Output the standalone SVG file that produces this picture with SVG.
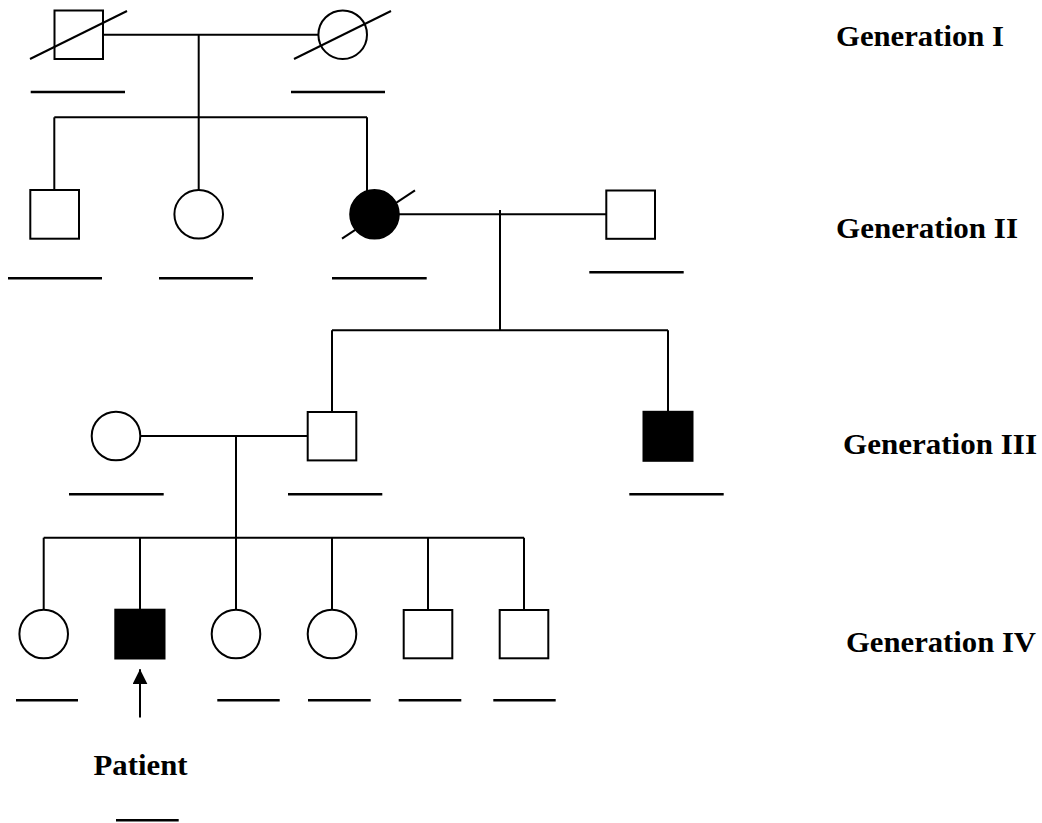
<svg xmlns="http://www.w3.org/2000/svg" width="1042" height="823" viewBox="0 0 1042 823">
<style>
  .ln { stroke: #000; stroke-width: 2; fill: none; }
  .ul { stroke: #000; stroke-width: 2.6; fill: none; }
  .open { stroke: #000; stroke-width: 2; fill: #fff; }
  .aff { stroke: #000; stroke-width: 2; fill: #000; }
  .lbl { font-family: "Liberation Serif", "Times New Roman", serif; font-weight: bold; font-size: 29px; fill: #000; }
</style>
<defs>
  <marker id="arr" viewBox="0 0 10 10" refX="10" refY="5" markerWidth="15" markerHeight="15" markerUnits="userSpaceOnUse" orient="auto">
    <path d="M0,0 L10,5 L0,10 Z" fill="#000"/>
  </marker>
</defs>
<rect width="1042" height="823" fill="#fff"/>

<g id="connectors">
  <!-- Generation I couple -->
  <line class="ln" x1="103" y1="34.7" x2="318.4" y2="34.7"/>
  <line class="ln" x1="198.7" y1="34.7" x2="198.7" y2="190"/>
  <line class="ln" x1="54.3" y1="117.3" x2="367" y2="117.3"/>
  <line class="ln" x1="54.3" y1="117.3" x2="54.3" y2="190"/>
  <line class="ln" x1="367" y1="117.3" x2="367" y2="191"/>
  <!-- Generation II couple -->
  <line class="ln" x1="399" y1="214.3" x2="606.3" y2="214.3"/>
  <line class="ln" x1="500" y1="210" x2="500" y2="330.3"/>
  <line class="ln" x1="332" y1="330.3" x2="668" y2="330.3"/>
  <line class="ln" x1="332" y1="330.3" x2="332" y2="412"/>
  <line class="ln" x1="668" y1="330.3" x2="668" y2="411.7"/>
  <!-- Generation III couple -->
  <line class="ln" x1="140.3" y1="436" x2="307.7" y2="436"/>
  <line class="ln" x1="236" y1="436" x2="236" y2="537.7"/>
  <line class="ln" x1="43.7" y1="537.7" x2="524" y2="537.7"/>
  <line class="ln" x1="43.7" y1="537.7" x2="43.7" y2="610"/>
  <line class="ln" x1="140" y1="537.7" x2="140" y2="610"/>
  <line class="ln" x1="236" y1="537.7" x2="236" y2="610"/>
  <line class="ln" x1="332" y1="537.7" x2="332" y2="610"/>
  <line class="ln" x1="428" y1="537.7" x2="428" y2="610"/>
  <line class="ln" x1="524" y1="537.7" x2="524" y2="610"/>
  <!-- proband arrow -->
  <line class="ln" x1="140" y1="717.5" x2="140" y2="669.3" marker-end="url(#arr)"/>
</g>

<!-- Generation I -->
<g id="I-1">
  <rect class="open" x="54.5" y="10.5" width="48.5" height="48.5"/>
  <line class="ln" x1="30" y1="59" x2="127" y2="11"/>
  <line class="ul" x1="30.7" y1="92" x2="125" y2="92"/>
</g>
<g id="I-2">
  <circle class="open" cx="342.7" cy="34.7" r="24.3"/>
  <line class="ln" x1="294" y1="59" x2="391" y2="11"/>
  <line class="ul" x1="291" y1="92" x2="385" y2="92"/>
</g>

<!-- Generation II -->
<g id="II-1">
  <rect class="open" x="30.3" y="190" width="48.7" height="48.7"/>
  <line class="ul" x1="8" y1="278.3" x2="102" y2="278.3"/>
</g>
<g id="II-2">
  <circle class="open" cx="198.7" cy="214.3" r="24.3"/>
  <line class="ul" x1="159" y1="278.3" x2="253" y2="278.3"/>
</g>
<g id="II-3">
  <circle class="aff" cx="374.5" cy="214.3" r="24.3"/>
  <line class="ln" x1="342" y1="238.7" x2="415" y2="190.3"/>
  <line class="ul" x1="332" y1="278.3" x2="426.7" y2="278.3"/>
</g>
<g id="II-4">
  <rect class="open" x="606.3" y="190.5" width="48.7" height="48.3"/>
  <line class="ul" x1="589.3" y1="272.3" x2="683.7" y2="272.3"/>
</g>

<!-- Generation III -->
<g id="III-1">
  <circle class="open" cx="116" cy="436" r="24.3"/>
  <line class="ul" x1="69" y1="494.3" x2="163.7" y2="494.3"/>
</g>
<g id="III-2">
  <rect class="open" x="307.7" y="412" width="48.6" height="48.4"/>
  <line class="ul" x1="288" y1="494.3" x2="382.3" y2="494.3"/>
</g>
<g id="III-3">
  <rect class="aff" x="643.5" y="411.8" width="49" height="49"/>
  <line class="ul" x1="629.3" y1="494.3" x2="723.7" y2="494.3"/>
</g>

<!-- Generation IV -->
<g id="IV-1">
  <circle class="open" cx="43.7" cy="634" r="24.3"/>
  <line class="ul" x1="16" y1="700.3" x2="78" y2="700.3"/>
</g>
<g id="IV-2">
  <rect class="aff" x="115.3" y="609.7" width="49.2" height="48.8"/>
</g>
<g id="IV-3">
  <circle class="open" cx="236" cy="634" r="24.3"/>
  <line class="ul" x1="217.3" y1="700.3" x2="279.7" y2="700.3"/>
</g>
<g id="IV-4">
  <circle class="open" cx="332" cy="634" r="24.3"/>
  <line class="ul" x1="308" y1="700.3" x2="370.7" y2="700.3"/>
</g>
<g id="IV-5">
  <rect class="open" x="403.7" y="610" width="48.6" height="48.3"/>
  <line class="ul" x1="398.7" y1="700.3" x2="461.3" y2="700.3"/>
</g>
<g id="IV-6">
  <rect class="open" x="499.7" y="610" width="48.6" height="48.3"/>
  <line class="ul" x1="493.3" y1="700.3" x2="555.7" y2="700.3"/>
</g>

<g id="patient-label">
  <text class="lbl" x="93.5" y="775" textLength="94" lengthAdjust="spacingAndGlyphs">Patient</text>
  <line class="ul" x1="116" y1="820.3" x2="178.7" y2="820.3"/>
</g>

<g id="generation-labels">
  <text class="lbl" x="836" y="46" textLength="168" lengthAdjust="spacingAndGlyphs">Generation I</text>
  <text class="lbl" x="836" y="238.3" textLength="182" lengthAdjust="spacingAndGlyphs">Generation II</text>
  <text class="lbl" x="843" y="454.3" textLength="194" lengthAdjust="spacingAndGlyphs">Generation III</text>
  <text class="lbl" x="846" y="652.3" textLength="190" lengthAdjust="spacingAndGlyphs">Generation IV</text>
</g>
</svg>
